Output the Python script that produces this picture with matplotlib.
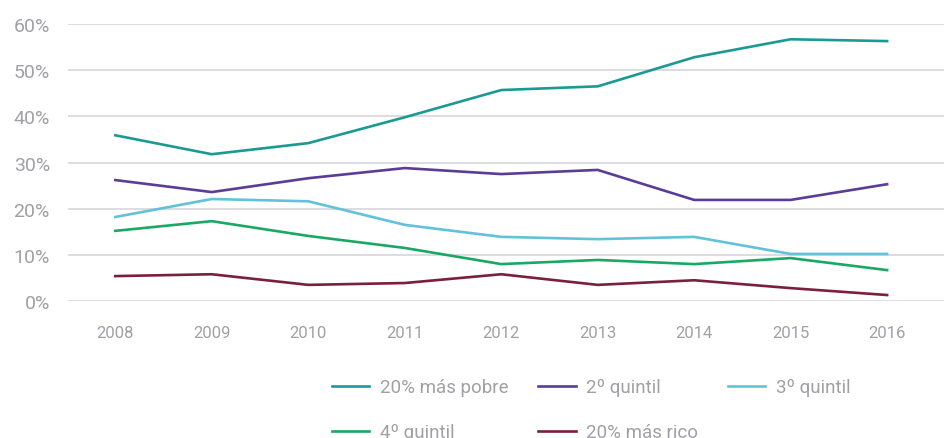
import matplotlib.pyplot as plt
import numpy as np

years = ['2008', '2009', '2010', '2011', '2012', '2013', '2014', '2015', '2016']

mas_pobre = [35.9, 31.8, 34.2, 39.8, 45.7, 46.5, 52.8, 56.7, 56.3]
quintil_2 = [26.2, 23.6, 26.6, 28.8, 27.5, 28.4, 21.9, 21.9, 25.3]
quintil_3 = [18.2, 22.1, 21.6, 16.5, 13.9, 13.4, 13.9, 10.2, 10.2]
quintil_4 = [15.2, 17.3, 14.1, 11.5, 8.0, 8.9, 8.0, 9.3, 6.7]
mas_rico = [5.4, 5.8, 3.5, 3.9, 5.8, 3.5, 4.5, 2.8, 1.3]

labels = ['20% más pobre', '2º quintil', '3º quintil', '4º quintil', '20% más rico']
colors = ['#1a9a93', '#5b3c97', '#62c2da', '#1aa865', '#7a1f3d']

plt.rcParams['font.family'] = ['Roboto', 'DejaVu Sans']
grey = '#a0a0a6'

fig = plt.figure(figsize=(9.45, 4.39), dpi=100)
ax = fig.add_axes([0.072, 0.312, 0.928, 0.631])

x = np.arange(len(years))
series = [mas_pobre, quintil_2, quintil_3, quintil_4, mas_rico]
lines = []
for vals, lab, c in zip(series, labels, colors):
    ln, = ax.plot(x, vals, color=c, lw=1.9, label=lab, clip_on=False)
    lines.append(ln)

ax.set_xlim(-0.49, 8.6)
ax.set_ylim(0, 60)
ax.set_xticks(x)
ax.set_xticklabels(years)
ax.set_yticks(np.arange(0, 61, 10))
ax.set_yticklabels(['%d%%' % v for v in range(0, 61, 10)])
ax.tick_params(axis='y', length=0, pad=13, labelsize=14, labelcolor=grey)
ax.tick_params(axis='x', length=0, pad=17, labelsize=12, labelcolor=grey)
ax.grid(axis='y', color='#dcdce2', lw=1.4)
ax.set_axisbelow(True)
for s in ax.spines.values():
    s.set_visible(False)

# legend rows: a b c / d e
order = [0, 3, 1, 4, 2]
fig.legend([lines[i] for i in order], [labels[i] for i in order],
           ncol=3, loc='upper left', bbox_to_anchor=(0.351, 0.136),
           frameon=False, fontsize=13.5, labelcolor=grey,
           handlelength=2.0, handletextpad=0.55, columnspacing=1.6,
           labelspacing=1.45, borderaxespad=0, borderpad=0)

fig.savefig('out.png', dpi=100)
